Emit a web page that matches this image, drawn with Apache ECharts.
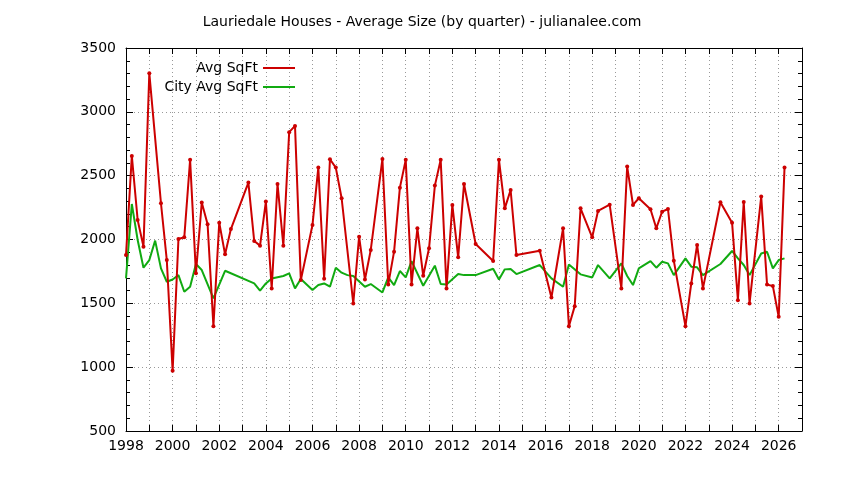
<!DOCTYPE html>
<html>
<head>
<meta charset="utf-8">
<script src="https://cdn.jsdelivr.net/npm/echarts@6/dist/echarts.min.js"></script>
<style>html,body{margin:0;padding:0;background:#fff}#chart{width:844px;height:480px}</style>
</head>
<body>
<div id="chart"></div>
<script>
// Avg SqFt (by quarter)
var redYears = [1998.0,1998.25,1998.5,1998.75,1999.0,1999.5,1999.75,2000.0,2000.25,2000.5,2000.75,2001.0,2001.25,2001.5,2001.75,2002.0,2002.25,2002.5,
  2003.25,2003.5,2003.75,2004.0,2004.25,2004.5,2004.75,2005.0,2005.25,2005.5,2006.0,2006.25,2006.5,2006.75,2007.0,2007.25,
  2007.75,2008.0,2008.25,2008.5,2009.0,2009.25,2009.5,2009.75,2010.0,2010.25,2010.5,2010.75,2011.0,2011.25,2011.5,2011.75,
  2012.0,2012.25,2012.5,2013.0,2013.75,2014.0,2014.25,2014.5,2014.75,2015.75,2016.25,2016.75,2017.0,2017.25,2017.5,
  2018.0,2018.25,2018.75,2019.25,2019.5,2019.75,2020.0,2020.5,2020.75,2021.0,2021.25,2021.5,2022.0,2022.25,2022.5,2022.75,
  2023.5,2024.0,2024.25,2024.5,2024.75,2025.25,2025.5,2025.75,2026.0,2026.25];
var redVals = [1878,2655,2153,1944,3303,2284,1839,971,2004,2017,2624,1735,2289,2119,1321,2132,1884,2082,
  2446,1988,1952,2297,1617,2435,1952,2841,2890,1682,2114,2563,1693,2629,2563,2323,
  1499,2022,1687,1918,2631,1648,1905,2406,2624,1648,2088,1716,1931,2422,2624,1617,
  2271,1860,2435,1965,1831,2624,2244,2388,1878,1912,1546,2088,1321,1478,2244,
  2017,2224,2273,1617,2571,2271,2323,2237,2088,2218,2239,1834,1321,1656,1957,1617,
  2292,2132,1525,2294,1499,2336,1648,1635,1394,2563];

// City Avg SqFt
var greenYears = [1998.0,1998.25,1998.5,1998.75,1999.0,1999.25,1999.5,1999.75,2000.0,2000.25,2000.5,2000.75,2001.0,2001.25,2001.75,2002.25,
  2003.5,2003.75,2004.0,2004.25,2004.75,2005.0,2005.25,2005.5,2006.0,2006.25,2006.5,2006.75,2007.0,2007.25,2007.5,2007.75,
  2008.25,2008.5,2009.0,2009.25,2009.5,2009.75,2010.0,2010.25,2010.75,2011.25,2011.5,2011.75,2012.25,2012.5,2013.0,2013.75,
  2014.0,2014.25,2014.5,2014.75,2015.75,2016.25,2016.75,2017.0,2017.5,2018.0,2018.25,2018.75,2019.25,2019.5,2019.75,
  2020.0,2020.5,2020.75,2021.0,2021.25,2021.5,2022.0,2022.25,2022.5,2022.75,2023.5,2024.0,2024.25,2024.5,2024.75,
  2025.25,2025.5,2025.75,2026.0,2026.25];
var greenVals = [1695,2278,1996,1779,1839,1991,1774,1669,1687,1721,1591,1630,1808,1761,1538,1755,
  1656,1599,1656,1695,1714,1735,1617,1690,1605,1643,1656,1630,1779,1740,1721,1714,
  1630,1651,1585,1703,1643,1753,1703,1831,1638,1795,1651,1648,1729,1721,1721,1771,
  1687,1766,1769,1729,1800,1695,1630,1805,1727,1703,1800,1695,1813,1714,1643,
  1774,1831,1779,1826,1813,1721,1852,1787,1782,1721,1808,1910,1852,1800,1721,
  1891,1904,1774,1839,1852];

function pairs(xs, ys) { return xs.map(function (x, i) { return [x, ys[i]]; }); }

var font = 'DejaVu Sans';
var chart = echarts.init(document.getElementById('chart'));
var xBase = {
  type: 'value', min: 1998, max: 2027, interval: 1,
  axisLine: { show: true, lineStyle: { color: '#000', width: 1 } },
  axisTick: { show: true, inside: true, length: 6, lineStyle: { color: '#000' } },
  splitLine: { show: false }
};
var yBase = {
  type: 'value', min: 500, max: 3500, interval: 500,
  axisLine: { show: true, lineStyle: { color: '#000', width: 1 } },
  axisTick: { show: true, inside: true, length: 7, lineStyle: { color: '#000' } },
  minorTick: { show: true, splitNumber: 5, length: 4, lineStyle: { color: '#000' } },
  splitLine: { show: false }
};
function legendFor(name, color, top) {
  return {
    right: 544, top: top, align: 'right', itemWidth: 32, itemHeight: 2,
    textStyle: { fontFamily: font, fontSize: 14, color: '#000' },
    data: [{ name: name, icon: 'rect', itemStyle: { color: color } }]
  };
}
chart.setOption({
  animation: false,
  title: {
    text: 'Lauriedale Houses - Average Size (by quarter) - julianalee.com',
    left: 'center', top: 10,
    textStyle: { fontFamily: font, fontSize: 14, fontWeight: 'normal', color: '#000' }
  },
  legend: [legendFor('Avg SqFt', '#cc0000', 56), legendFor('City Avg SqFt', '#11aa11', 75)],
  grid: { left: 126, right: 42, top: 48, bottom: 49 },
  xAxis: [
    Object.assign({}, xBase, {
      position: 'bottom',
      axisLabel: {
        fontFamily: font, fontSize: 14, color: '#000', margin: 8,
        formatter: function (v) { return v % 2 === 0 && v < 2027 ? String(v) : ''; }
      },
      splitLine: { show: true, lineStyle: { color: '#999', type: [1, 3], width: 1 } }
    }),
    Object.assign({}, xBase, { position: 'top', axisLabel: { show: false } })
  ],
  yAxis: [
    Object.assign({}, yBase, {
      position: 'left',
      axisLabel: { fontFamily: font, fontSize: 14, color: '#000', margin: 10,
        formatter: function (v) { return String(v); } },
      splitLine: { show: true, lineStyle: { color: '#999', type: [1, 3], width: 1 } }
    }),
    Object.assign({}, yBase, { position: 'right', axisLabel: { show: false } })
  ],
  series: [
    {
      name: 'Avg SqFt', type: 'line', data: pairs(redYears, redVals),
      symbol: 'circle', symbolSize: 4,
      lineStyle: { color: '#cc0000', width: 2 },
      itemStyle: { color: '#cc0000' }, z: 3
    },
    {
      name: 'City Avg SqFt', type: 'line', data: pairs(greenYears, greenVals),
      showSymbol: false, symbol: 'none',
      lineStyle: { color: '#11aa11', width: 2 },
      itemStyle: { color: '#11aa11' }, z: 2
    }
  ]
});
</script>
</body>
</html>
